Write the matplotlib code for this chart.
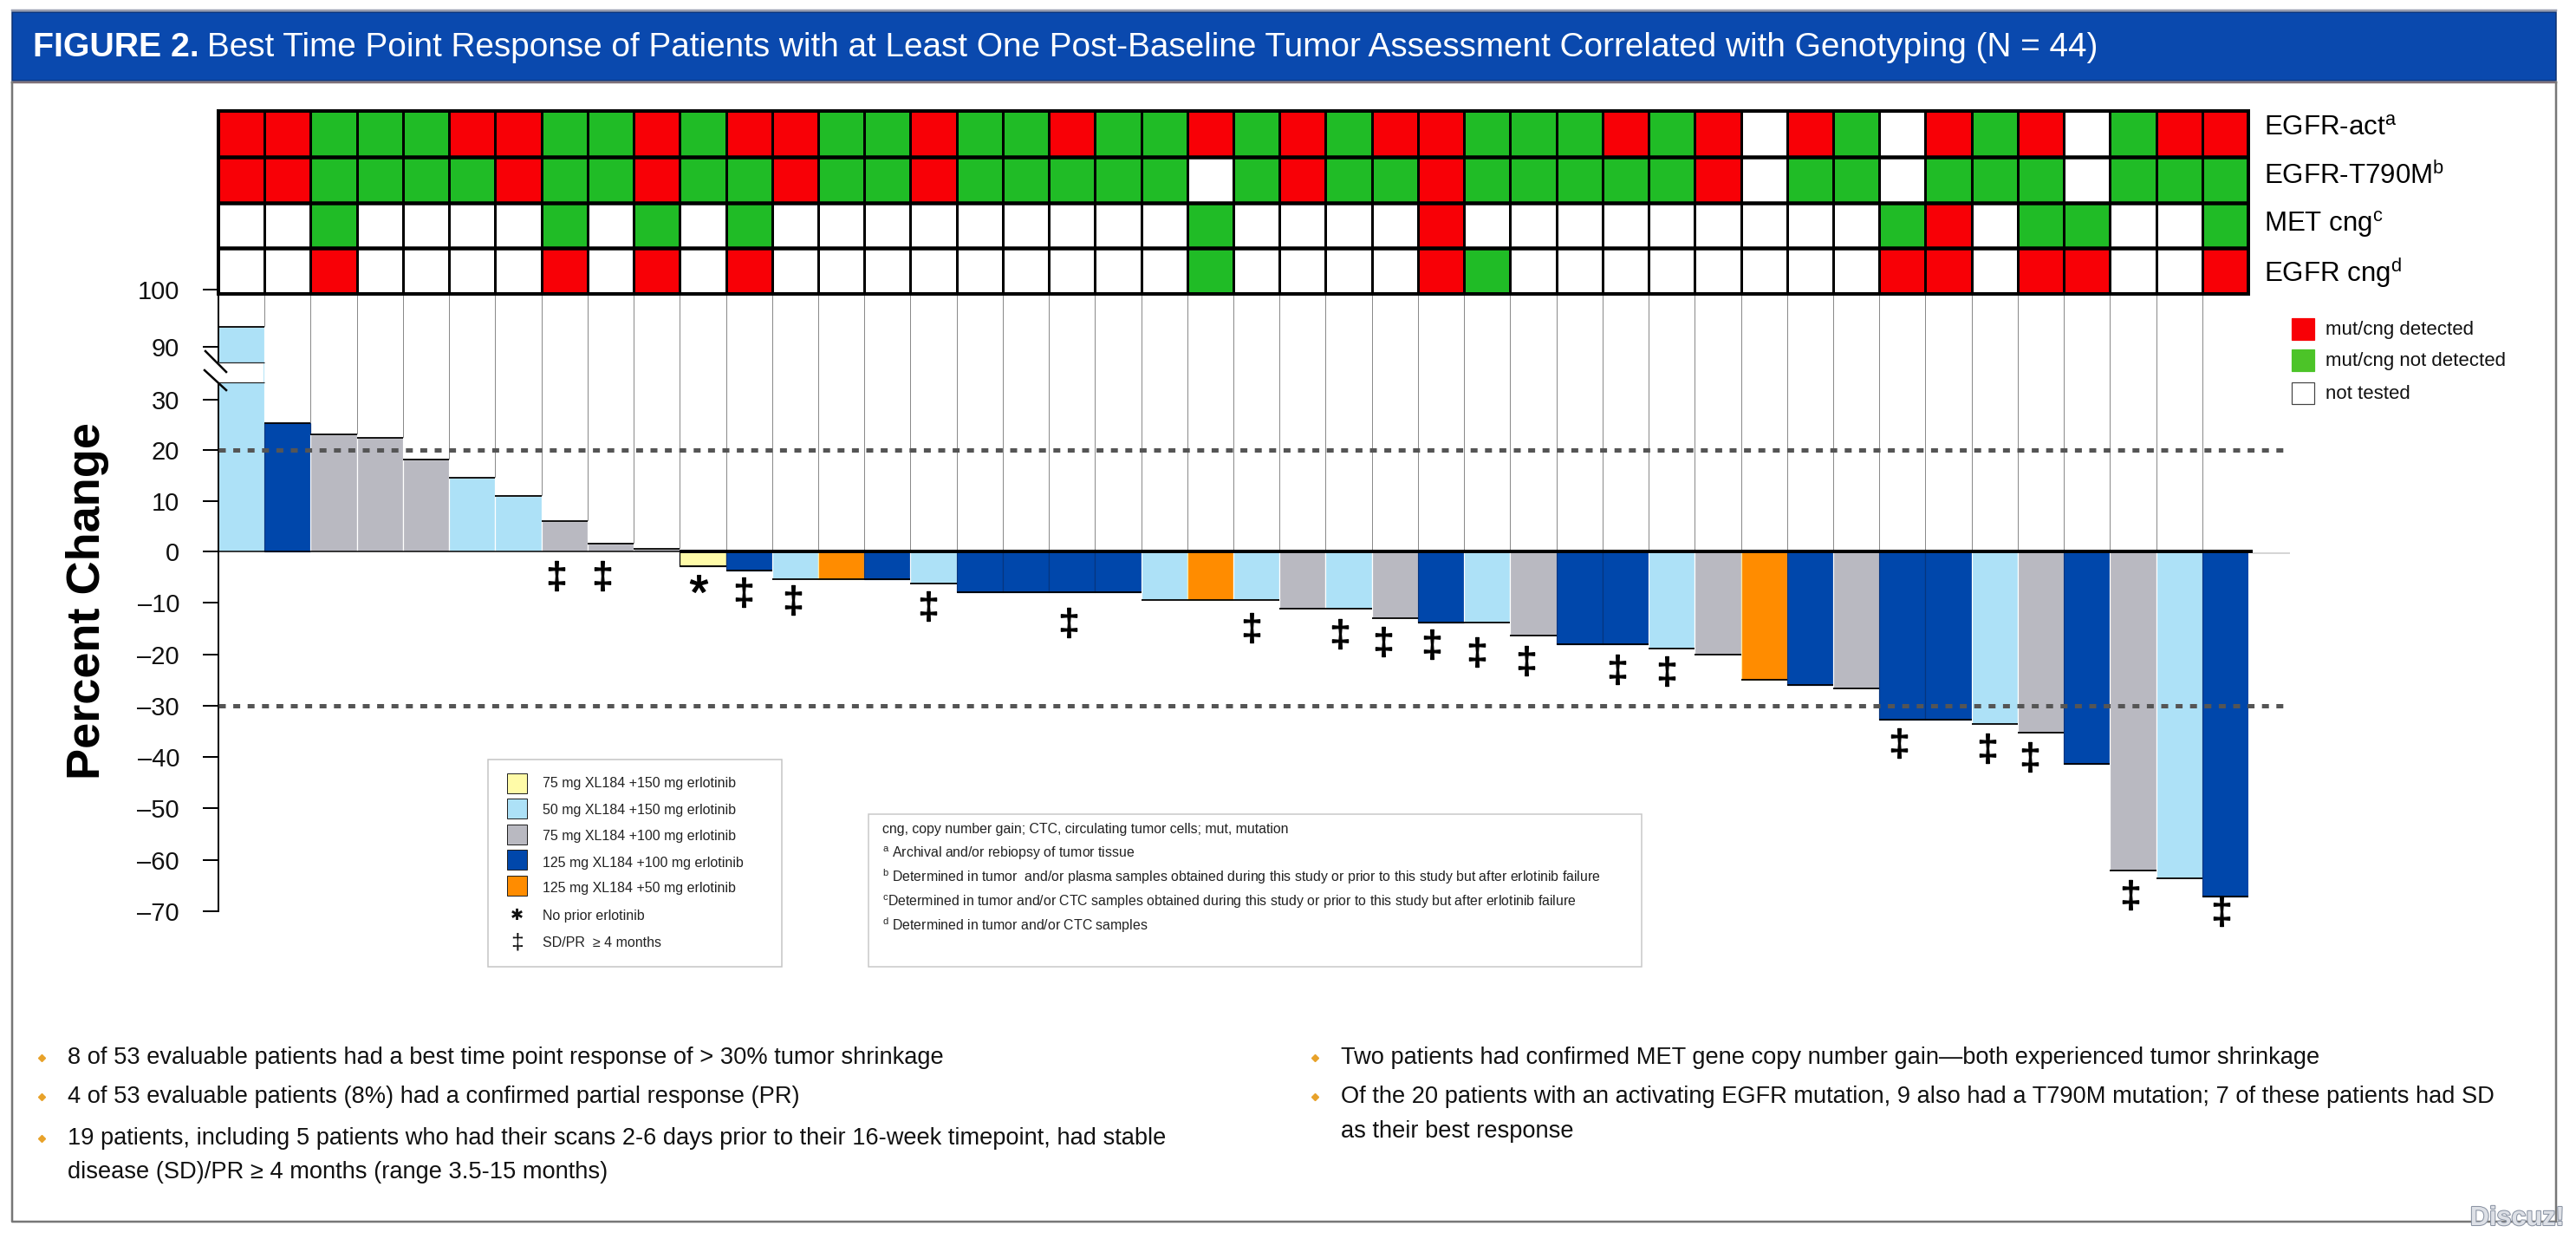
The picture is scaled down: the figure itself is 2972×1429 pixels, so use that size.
import matplotlib
matplotlib.use("Agg")
import matplotlib.pyplot as plt
import matplotlib.patheffects as pe
import numpy as np
from matplotlib.colors import ListedColormap
from matplotlib.patches import Rectangle

plt.rcParams['font.family'] = ['Liberation Sans', 'DejaVu Sans']
plt.rcParams['mathtext.fontset'] = 'custom'
plt.rcParams['mathtext.rm'] = 'Liberation Sans'
plt.rcParams['mathtext.default'] = 'rm'

W, H = 2972, 1429
PT = 72 / 100  # pt per pixel at dpi 100

# best response per patient, break in the first bar is handled separately
pct_change = [93.5, 25.3, 23.1, 22.4, 18.1, 14.5, 11.0, 6.0, 1.5, 0.6, -2.9, -3.7,
              -5.4, -5.4, -5.4, -6.2, -7.9, -7.9, -7.9, -7.9, -9.5, -9.5, -9.5, -11.2,
              -11.2, -13.0, -13.9, -13.9, -16.4, -18.0, -18.0, -18.9, -20.0, -25.0, -25.9, -26.7,
              -32.8, -32.8, -33.6, -35.3, -41.4, -62.0, -63.6, -67.2]
cohort = ['L', 'D', 'S', 'S', 'S', 'L', 'L', 'S', 'S', 'S', 'Y', 'D',
          'L', 'O', 'D', 'L', 'D', 'D', 'D', 'D', 'L', 'O', 'L', 'S',
          'L', 'S', 'D', 'L', 'S', 'D', 'D', 'L', 'S', 'O', 'D', 'S',
          'D', 'D', 'L', 'S', 'D', 'S', 'L', 'D']
break_low, break_high = 49.7, 72.3

egfr_act = list("RRGGGRRGGRGRRG" "GRGGRGGRGRGRRGGGRGR" "WRGWRGRWGRR")
egfr_t790m = list("RRGGGGRGGRGGRG" "GRGGGGGWGRGGRGGGGGR" "WGGWGGGWGGG")
met_cng = list("WWGWWWWGWGWGWW" "WWWWWWWGWWWWRWWWWWW" "WWWGRWGGWWG")
egfr_cng = list("WWRWWWWRWRWRWW" "WWWWWWWGWWWWRGWWWWW" "WWWRRWRRWWR")
row_labels = ['EGFR-act$^{a}$', 'EGFR-T790M$^{b}$', 'MET cng$^{c}$', 'EGFR cng$^{d}$']

dagger_x = [7.33, 8.32, 11.38, 12.45, 15.39, 18.43, 22.4, 24.32, 25.25, 26.3,
            27.28, 28.35, 30.32, 31.4, 36.43, 38.34, 39.27, 41.45, 43.41]
dagger_y = [-4.7, -4.7, -7.9, -9.4, -10.6, -13.8, -14.8, -16.1, -17.6, -18.1,
            -19.5, -21.2, -23.0, -23.3, -37.2, -38.3, -40.0, -66.8, -71.5]
star_x, star_y = 10.41, -6.2

ticks = [-70, -60, -50, -40, -30, -20, -10, 0, 10, 20, 30, 90, 100]
tick_labels = ['–70', '–60', '–50', '–40', '–30', '–20', '–10', '0', '10', '20', '30', '90', '100']

# axis is not linear: value -> pixel row in the picture
knot_val = [-70, 0, 30, 90, 100]
knot_px = [1051, 636, 461, 400, 334]

colors = {'L': '#ADE1F7', 'D': '#0047AB', 'S': '#B9B9C1', 'O': '#FF8C00', 'Y': '#FFFBA8'}
edges = {'L': 'white', 'D': '#06357F', 'S': 'white', 'O': '#FFE9A0', 'Y': 'black'}
geno_codes = {'R': 0, 'G': 1, 'W': 2}

dose_labels = ['75 mg XL184 +150 mg erlotinib', '50 mg XL184 +150 mg erlotinib',
               '75 mg XL184 +100 mg erlotinib', '125 mg XL184 +100 mg erlotinib',
               '125 mg XL184 +50 mg erlotinib']
dose_keys = ['Y', 'L', 'S', 'D', 'O']
foot_lines = ['cng, copy number gain; CTC, circulating tumor cells; mut, mutation',
              '$^{a}$ Archival and/or rebiopsy of tumor tissue',
              '$^{b}$ Determined in tumor  and/or plasma samples obtained during this study or prior to this study but after erlotinib failure',
              '$^{c}$Determined in tumor and/or CTC samples obtained during this study or prior to this study but after erlotinib failure',
              '$^{d}$ Determined in tumor and/or CTC samples']
left_lines = ['8 of 53 evaluable patients had a best time point response of > 30% tumor shrinkage',
              '4 of 53 evaluable patients (8%) had a confirmed partial response (PR)',
              '19 patients, including 5 patients who had their scans 2-6 days prior to their 16-week timepoint, had stable',
              'disease (SD)/PR ≥ 4 months (range 3.5-15 months)']
left_y = [1220, 1265, 1313, 1352]
left_dot = [True, True, True, False]
right_lines = ['Two patients had confirmed MET gene copy number gain—both experienced tumor shrinkage',
               'Of the 20 patients with an activating EGFR mutation, 9 also had a T790M mutation; 7 of these patients had SD',
               'as their best response']
right_y = [1220, 1265, 1305]
right_dot = [True, True, False]

fig = plt.figure(figsize=(W / 100, H / 100), dpi=100, facecolor='white')


def px_axes(left, top, right, bottom):
    return fig.add_axes([left / W, 1 - bottom / H, (right - left) / W, (bottom - top) / H])


# waterfall
ax = px_axes(252, 334, 2594, 1051)
ax.set_yscale('function', functions=(lambda v: -np.interp(v, knot_val, knot_px),
                                     lambda p: np.interp(-p, knot_px[::-1], knot_val[::-1])))
ax.set_xlim(0, 44)
ax.set_ylim(-70, 100)
ax.patch.set_alpha(0)
x = np.arange(len(pct_change)) + 0.5
ax.vlines(np.arange(1, 45), 0, 100, color='#8a8a8a', lw=1 * PT, zorder=1)
ax.bar(x, pct_change, width=1, color=[colors[c] for c in cohort],
       edgecolor=[edges[c] for c in cohort], lw=1.2 * PT, zorder=2)
ax.hlines(pct_change, x - 0.5, x + 0.5, color='black', lw=1.8 * PT, zorder=2.6)
ax.add_patch(Rectangle((-0.1, break_low), 1.08, break_high - break_low, fc='white', ec='none', zorder=3, clip_on=False))
ax.hlines([break_low, break_high], 0, 1, color='#222222', lw=1.2 * PT, zorder=3.1)
ax.hlines(0, 0, 10, color='black', lw=1.5 * PT, zorder=3)
ax.hlines(0, 10, 44.1, color='black', lw=4 * PT, zorder=3, clip_on=False)
ax.hlines(-0.4, 44.1, 44.9, color='#c8c8c8', lw=1.5 * PT, clip_on=False)
for ref in (20, -30):
    ax.plot([0, 44.9], [ref, ref], color='#555555', lw=5 * PT, dashes=(8 / 5, 8.6 / 5),
            dash_capstyle='butt', zorder=4, clip_on=False)
ax.plot(dagger_x, dagger_y, ls='none', marker='$‡$', ms=34 * PT, color='black', zorder=5, clip_on=False)
ax.plot([star_x], [star_y], ls='none', marker='$*$', ms=20 * PT, color='black', zorder=5, clip_on=False)
for s in ('top', 'right', 'bottom'):
    ax.spines[s].set_visible(False)
ax.spines['left'].set_linewidth(2 * PT)
ax.set_xticks([])
ax.set_yticks(ticks)
ax.set_yticks([], minor=True)
ax.set_yticklabels(tick_labels, fontsize=21, color='#111111')
ax.tick_params(axis='y', length=18 * PT, width=2 * PT, pad=27 * PT, which='major')

# genotyping grid
heat = px_axes(252, 128, 2594, 339)
rows = [egfr_act, egfr_t790m, met_cng, egfr_cng]
z = np.array([[geno_codes[c] for c in r] for r in rows])
heat.pcolormesh(np.arange(45), np.arange(5), z, vmin=0, vmax=2,
                cmap=ListedColormap(['#F80006', '#20BC26', 'white']),
                edgecolors='black', linewidth=3 * PT)
heat.hlines([1, 2, 3], 0, 44, color='black', lw=4.5 * PT)
heat.set_ylim(4, 0)
heat.set_xticks([])
heat.set_yticks([])
for s in heat.spines.values():
    s.set_linewidth(4 * PT)
heat.tick_params(length=0)

# everything else is placed in picture pixels
over = fig.add_axes([0, 0, 1, 1], zorder=10)
over.set_xlim(0, W)
over.set_ylim(H, 0)
over.axis('off')
over.patch.set_alpha(0)

over.add_patch(Rectangle((14, 14), 2935, 79, fc='#0A49AE', ec='#0B2F70', lw=1.5 * PT))
over.plot([14, 2949], [12, 12], color='#9A9FB0', lw=2.5 * PT)
over.plot([14, 2949], [95, 95], color='#7E7078', lw=2.5 * PT)
over.plot([14, 14, 2949, 2949], [95, 1409, 1409, 95], color='#777777', lw=2.5 * PT)

over.text(38, 55, 'FIGURE 2.', color='white', fontsize=28.3, fontweight='bold', va='center')
over.text(239, 55, 'Best Time Point Response of Patients with at Least One Post-Baseline Tumor Assessment Correlated with Genotyping (N = 44)',
          color='white', fontsize=27.9, va='center')

for label, yy in zip(row_labels, [148, 203, 258, 314]):
    over.text(2612, yy, label, fontsize=22.5, va='center', color='black')

for col, ec, label, top in zip(['#F80006', '#4CC428', 'white'], ['#F80006', '#4CC428', '#444444'],
                               ['mut/cng detected', 'mut/cng not detected', 'not tested'], [367, 403, 441]):
    over.add_patch(Rectangle((2644, top), 26, 25, fc=col, ec=ec, lw=1.2 * PT))
    over.text(2683, top + 13, label, fontsize=16, va='center', color='#111111')

over.text(101, 693, 'Percent Change', rotation=90, fontsize=39, fontweight='bold', ha='center', va='center', color='black')

# dose legend
over.add_patch(Rectangle((563, 876), 339, 239, fc='white', ec='#c4c4c4', lw=1.5 * PT))
for key, label, top, yy in zip(dose_keys, dose_labels, [892, 921, 951, 980, 1010], [903, 934, 964, 995, 1025]):
    over.add_patch(Rectangle((585, top), 23, 23, fc=colors[key], ec='#222222', lw=1 * PT))
    over.text(626, yy, label, fontsize=11.5, va='center', color='#222222')
over.text(596, 1056, '✱', fontsize=13, ha='center', va='center', color='#111111', family=['DejaVu Sans'])
over.text(626, 1056, 'No prior erlotinib', fontsize=11.5, va='center', color='#222222')
over.text(597, 1087, '‡', fontsize=19, ha='center', va='center', color='#111111')
over.text(626, 1087, 'SD/PR  ≥ 4 months', fontsize=11.5, va='center', color='#222222')

# footnotes
over.add_patch(Rectangle((1002, 939), 892, 176, fc='white', ec='#c8c8c8', lw=1.5 * PT))
for line, yy in zip(foot_lines, [956, 984, 1011, 1040, 1067]):
    over.text(1018, yy, line, fontsize=11.4, va='center', color='#222222')

# bullet text
for bx, tx, lines, ys, dots in [(48, 78, left_lines, left_y, left_dot), (1517, 1547, right_lines, right_y, right_dot)]:
    for line, yy, dot in zip(lines, ys, dots):
        over.text(tx, yy, line, fontsize=19.6, va='center', color='#111111')
        if dot:
            over.plot([bx], [yy], marker='D', ms=6 * PT, color='#E8A22A', ls='none')

# axis break slashes
over.plot([237, 261], [405, 429], color='black', lw=2.5 * PT)
over.plot([236, 261], [427, 450], color='black', lw=2.5 * PT)

over.text(2904, 1405, 'Discuz!', fontsize=22, fontweight='bold', ha='center', va='center', color='#DDE0E6',
          path_effects=[pe.withStroke(linewidth=1.5, foreground='#8A93A3')])

fig.savefig('out.png', dpi=100)
